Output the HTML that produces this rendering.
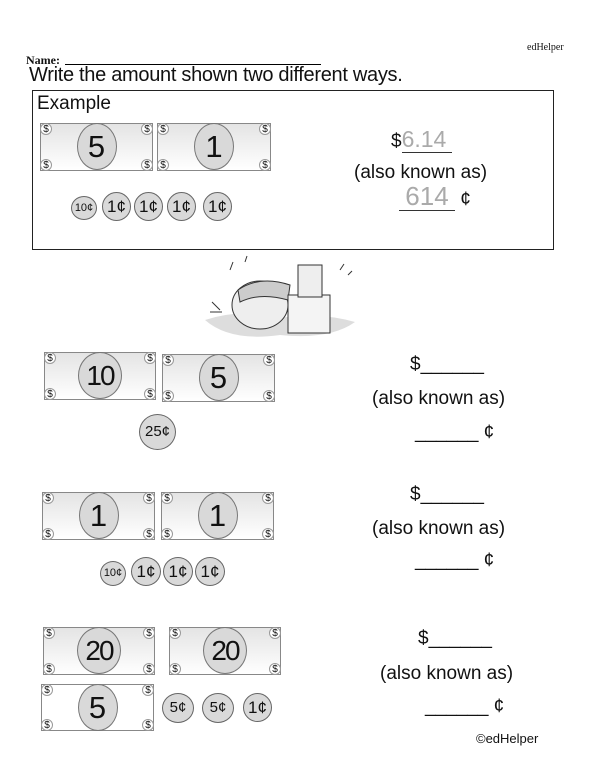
<!DOCTYPE html>
<html><head><meta charset="utf-8"><style>
body{margin:0;width:600px;height:776px;background:#fff;position:relative;overflow:hidden;font-family:"Liberation Sans",sans-serif;color:#111}
.a{position:absolute}
.bill{position:absolute;border:1px solid #888;background:linear-gradient(#e4e4e4,#fff);box-sizing:border-box}
.bill.w{background:#fff}
.ov{position:absolute;left:50%;top:-1px;width:40px;height:47px;margin-left:-20px;border:1px solid #777;border-radius:50%;background:#d9d9d9;box-sizing:border-box;text-align:center;line-height:45px;font-size:31px}
.ov.t{font-size:28px;letter-spacing:-2px;width:44px;margin-left:-22px}
.d{position:absolute;width:12px;height:12px;border:1px solid #999;border-radius:50%;background:#fff;font-size:10px;line-height:12px;text-align:center;box-sizing:border-box}
.tl{left:-1px;top:-1px}.tr{right:-1px;top:-1px}.bl{left:-1px;bottom:-1px}.br{right:-1px;bottom:-1px}
.coin{position:absolute;border:1px solid #666;border-radius:50%;background:#d9d9d9;box-sizing:border-box;text-align:center;font-size:17px}
.txt{position:absolute;font-size:19px;white-space:nowrap}
</style></head><body>
<div class="a" style="left:527px;top:42px;font-family:'Liberation Serif',serif;font-size:10px">edHelper</div>
<div class="a" style="left:26px;top:53px;font-family:'Liberation Serif',serif;font-size:12px;font-weight:bold">Name:</div>
<div class="a" style="left:65px;top:64px;width:256px;border-top:1px solid #000"></div>
<div class="txt" style="left:29px;top:64px;font-size:20px;letter-spacing:-0.3px">Write the amount shown two different ways.</div>
<div class="a" style="left:32px;top:90px;width:522px;height:160px;border:1px solid #222;box-sizing:border-box"></div>
<div class="txt" style="left:37px;top:93px;font-size:19px">Example</div>

<!-- example bills -->
<div class="bill" style="left:40px;top:123px;width:113px;height:48px"><div class="ov">5</div><div class="d tl">$</div><div class="d tr">$</div><div class="d bl">$</div><div class="d br">$</div></div>
<div class="bill" style="left:157px;top:123px;width:114px;height:48px"><div class="ov">1</div><div class="d tl">$</div><div class="d tr">$</div><div class="d bl">$</div><div class="d br">$</div></div>
<div class="coin" style="left:71px;top:196px;width:26px;height:24px;font-size:11px;line-height:22px">10¢</div>
<div class="coin" style="left:102px;top:192px;width:29px;height:29px;line-height:27px">1¢</div>
<div class="coin" style="left:134px;top:192px;width:29px;height:29px;line-height:27px">1¢</div>
<div class="coin" style="left:167px;top:192px;width:29px;height:29px;line-height:27px">1¢</div>
<div class="coin" style="left:203px;top:192px;width:29px;height:29px;line-height:27px">1¢</div>
<div class="txt" style="left:391px;top:126px">$<span style="color:#aaa;font-size:23px;border-bottom:1px solid #333;padding-right:6px">6.14</span></div>
<div class="txt" style="left:354px;top:162px">(also known as)</div>
<div class="txt" style="left:399px;top:182px"><span style="color:#aaa;font-size:26px;border-bottom:1px solid #333;display:inline-block;width:56px;text-align:center;line-height:28px">614</span> ¢</div>

<!-- cartoon -->
<svg class="a" style="left:200px;top:250px" width="160" height="95" viewBox="0 0 160 95">
<path d="M5 70 Q40 58 80 68 Q120 62 155 72 Q130 90 80 85 Q30 92 5 70Z" fill="#ddd"/>
<ellipse cx="60" cy="55" rx="28" ry="24" fill="#eee" stroke="#333"/>
<path d="M38 40 Q60 25 90 35 L88 50 Q60 42 40 52Z" fill="#ccc" stroke="#333"/>
<rect x="88" y="45" width="42" height="38" fill="#f4f4f4" stroke="#333"/>
<rect x="98" y="15" width="24" height="32" fill="#eee" stroke="#333"/>
<path d="M20 60 L12 52 M22 62 L10 62" stroke="#333"/>
<path d="M30 20 l3 -8 M45 12 l2 -6 M140 20 l4 -6 M148 25 l4 -4" stroke="#333"/>
</svg>

<!-- section 2 -->
<div class="bill" style="left:44px;top:352px;width:112px;height:48px"><div class="ov t">10</div><div class="d tl">$</div><div class="d tr">$</div><div class="d bl">$</div><div class="d br">$</div></div>
<div class="bill" style="left:162px;top:354px;width:113px;height:48px"><div class="ov">5</div><div class="d tl">$</div><div class="d tr">$</div><div class="d bl">$</div><div class="d br">$</div></div>
<div class="coin" style="left:139px;top:414px;width:37px;height:36px;line-height:34px;font-size:15px">25¢</div>
<div class="txt" style="left:410px;top:354px">$______</div>
<div class="txt" style="left:372px;top:388px">(also known as)</div>
<div class="txt" style="left:415px;top:422px">______ ¢</div>

<!-- section 3 -->
<div class="bill" style="left:42px;top:492px;width:113px;height:48px"><div class="ov">1</div><div class="d tl">$</div><div class="d tr">$</div><div class="d bl">$</div><div class="d br">$</div></div>
<div class="bill" style="left:161px;top:492px;width:113px;height:48px"><div class="ov">1</div><div class="d tl">$</div><div class="d tr">$</div><div class="d bl">$</div><div class="d br">$</div></div>
<div class="coin" style="left:100px;top:561px;width:26px;height:25px;font-size:11px;line-height:23px">10¢</div>
<div class="coin" style="left:131px;top:557px;width:30px;height:29px;line-height:27px">1¢</div>
<div class="coin" style="left:163px;top:557px;width:30px;height:29px;line-height:27px">1¢</div>
<div class="coin" style="left:195px;top:557px;width:30px;height:29px;line-height:27px">1¢</div>
<div class="txt" style="left:410px;top:484px">$______</div>
<div class="txt" style="left:372px;top:518px">(also known as)</div>
<div class="txt" style="left:415px;top:550px">______ ¢</div>

<!-- section 4 -->
<div class="bill" style="left:43px;top:627px;width:112px;height:48px"><div class="ov t">20</div><div class="d tl">$</div><div class="d tr">$</div><div class="d bl">$</div><div class="d br">$</div></div>
<div class="bill" style="left:169px;top:627px;width:112px;height:48px"><div class="ov t">20</div><div class="d tl">$</div><div class="d tr">$</div><div class="d bl">$</div><div class="d br">$</div></div>
<div class="bill w" style="left:41px;top:684px;width:113px;height:47px"><div class="ov">5</div><div class="d tl">$</div><div class="d tr">$</div><div class="d bl">$</div><div class="d br">$</div></div>
<div class="coin" style="left:162px;top:693px;width:32px;height:30px;line-height:28px;font-size:15px">5¢</div>
<div class="coin" style="left:202px;top:693px;width:32px;height:30px;line-height:28px;font-size:15px">5¢</div>
<div class="coin" style="left:243px;top:693px;width:29px;height:29px;line-height:27px">1¢</div>
<div class="txt" style="left:418px;top:628px">$______</div>
<div class="txt" style="left:380px;top:663px">(also known as)</div>
<div class="txt" style="left:425px;top:696px">______ ¢</div>
<div class="txt" style="left:476px;top:731px;font-size:13px">©edHelper</div>
</body></html>
